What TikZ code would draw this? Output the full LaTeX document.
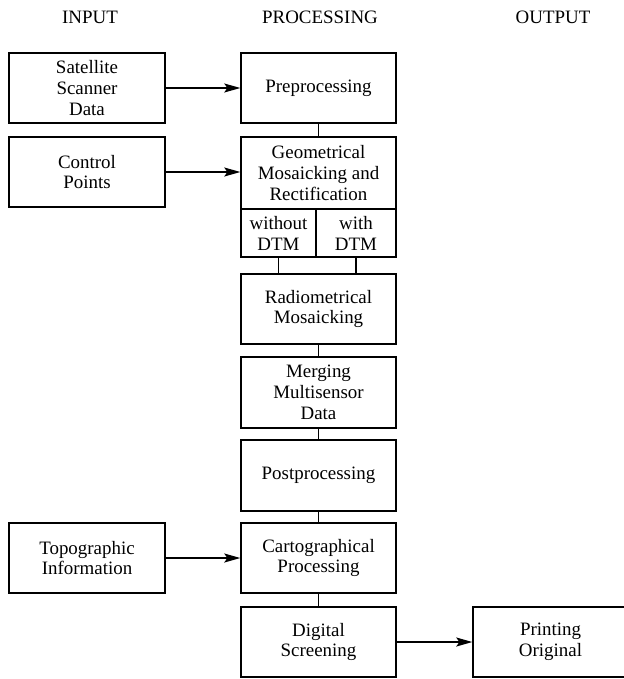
\documentclass[tikz,border=0pt]{standalone}
\usepackage{fontspec}
\setmainfont{Liberation Serif}
\usetikzlibrary{arrows.meta}
\begin{document}
\begin{tikzpicture}[x=1bp, y=-1bp,
  every node/.style={font=\fontsize{19}{21}\selectfont},
  heading/.style={inner sep=0pt},
  stagebox/.style={draw, fill=white, line width=1.4bp, align=center,
    inner sep=0pt, minimum width=155bp, minimum height=70bp},
  link/.style={line width=1.4bp},
  feed/.style={line width=1.4bp, -{Stealth[length=16bp, width=9bp, inset=3bp]}}
]
\useasboundingbox (0,0) rectangle (624,679);

% column headings
\node[heading] (hin)  at (90,17)  {INPUT};
\node[heading] (hpro) at (320,17) {PROCESSING};
\node[heading] (hout) at (553,17) {OUTPUT};

% input column
\node[stagebox, minimum width=156bp] (sat)  at (87,88)  {Satellite\\Scanner\\Data};
\node[stagebox, minimum width=156bp] (ctrl) at (87,172) {Control\\Points};
\node[stagebox, minimum width=156bp] (topo) at (87,558) {Topographic\\Information};

% processing column
\node[stagebox] (pre) at (318.5,88) {Preprocessing};
\node[stagebox, minimum height=72bp] (geo) at (318.5,173)
  {Geometrical\\Mosaicking and\\Rectification};
\node[stagebox, minimum width=75bp, minimum height=48bp] (wo) at (278.5,233) {without\\DTM};
\node[stagebox, minimum width=80bp, minimum height=48bp] (wi) at (356,233) {with\\DTM};
\node[stagebox] (radio) at (318.5,309) {Radiometrical\\Mosaicking};
\node[stagebox, minimum height=71bp] (merge) at (318.5,392.5) {Merging\\Multisensor\\Data};
\node[stagebox, minimum height=71bp] (post) at (318.5,475.5) {Postprocessing};
\node[stagebox] (carto) at (318.5,558) {Cartographical\\Processing};
\node[stagebox] (digi) at (318.5,642) {Digital\\Screening};

% output column
\node[stagebox] (print) at (550.5,642) {Printing\\Original};

% processing chain
\draw[link] (pre.south) -- (geo.north);
\draw[link] (wo.south) -- (wo.south |- radio.north);
\draw[link] (wi.south) -- (wi.south |- radio.north);
\draw[link] (radio.south) -- (merge.north);
\draw[link] (merge.south) -- (post.north);
\draw[link] (post.south) -- (carto.north);
\draw[link] (carto.south) -- (digi.north);

% inputs and output
\draw[feed] (sat.east) -- (pre.west);
\draw[feed] (ctrl.east) -- (ctrl.east -| geo.west);
\draw[feed] (topo.east) -- (carto.west);
\draw[feed] (digi.east) -- (print.west);
\end{tikzpicture}
\end{document}
